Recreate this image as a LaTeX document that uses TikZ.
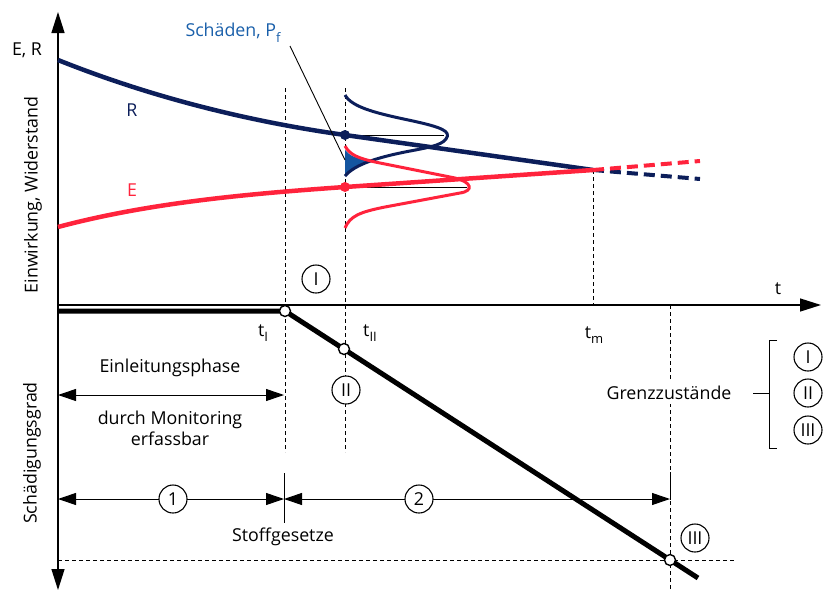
\documentclass[tikz,border=0pt]{standalone}
\usepackage{fontspec}
\setmainfont{Open Sans}
\usetikzlibrary{arrows.meta}
\definecolor{navyR}{RGB}{12,30,90}
\definecolor{redE}{RGB}{255,35,60}
\definecolor{blueP}{RGB}{25,95,170}
\definecolor{fillP}{RGB}{20,85,160}
\newcommand{\sub}[1]{\raisebox{-0.32em}{\fontsize{13}{13}\selectfont #1}}
\tikzset{
  axtip/.tip={Triangle[length=21pt,width=13pt]},
  dimtip/.tip={Triangle[length=18pt,width=12pt]}
}
\begin{document}
\begin{tikzpicture}[x=1pt,y=-1pt,
  lbl/.style={font=\fontsize{17.8}{21}\selectfont, inner sep=0pt},
  circ/.style={circle, draw, line width=1.1pt, fill=white, minimum size=28pt, inner sep=0pt, font=\fontsize{17.8}{21}\selectfont},
  thindash/.style={dash pattern=on 4pt off 3pt, line width=0.9pt},
  axisline/.style={line width=1.4pt},
  dimline/.style={line width=1pt},
  opendot/.style={circle, draw, line width=1.4pt, fill=white, minimum size=11pt, inner sep=0pt},
  fulldot/.style={circle, minimum size=10pt, inner sep=0pt}
]
\useasboundingbox (0,0) rectangle (823,595);

% key coordinates
\coordinate (ytop) at (58,12);
\coordinate (ybot) at (58,590);
\coordinate (xl) at (58,305);
\coordinate (xr) at (821,305);
\coordinate (Rs) at (58,60);
\coordinate (Es) at (58,227);
\coordinate (Rm) at (345,135);
\coordinate (Em) at (345,187);
\coordinate (M) at (593,170);
\coordinate (Rend) at (700,179);
\coordinate (Eend) at (700,161);

% thin dashed verticals
\draw[thindash] (285,88) coordinate (tIa) -- (285,452) coordinate (tIb);
\draw[thindash] (345,88) coordinate (tIIa) -- (345,452) coordinate (tIIb);
\draw[thindash] (M) -- (593,305) coordinate (tmb);
\draw[thindash] (670,305) coordinate (tGa) -- (670,590) coordinate (tGb);
\draw[thindash] (58,560) coordinate (hl) -- (735,560) coordinate (hr);

% axes
\draw[axisline, axtip-axtip] (ytop) -- (ybot);
\draw[axisline, -axtip] (xl) -- (xr);

% filled overlap
\fill[fillP] (345,150) .. controls (350,156) and (356,158) .. (369,161)
  .. controls (358,165) and (350,169) .. (345,177) -- cycle;

% distributions
\draw[navyR, line width=3pt] (345,95) .. controls (352,108) and (380,114) .. (413,121)
  .. controls (440,127) and (452,131) .. (446,139)
  .. controls (441,146) and (425,148) .. (405,152)
  .. controls (380,157) and (355,164) .. (345,176);
\draw[redE, line width=3pt] (345,146) .. controls (350,155) and (358,158) .. (375,162)
  -- (455,178) .. controls (472,182) and (474,191) .. (460,193)
  -- (385,207) .. controls (360,212) and (350,216) .. (345,228);

% horizontal thin lines to peaks
\draw[line width=1pt] (Rm) -- (444,135) coordinate (Rpk);
\draw[line width=1pt] (Em) -- (467,187) coordinate (Epk);

% R and E curves
\draw[navyR, line width=4.5pt] (Rs) .. controls (148,96) and (245,121) .. (Rm) -- (M);
\draw[redE, line width=4.5pt] (Es) .. controls (148,203) and (245,194) .. (Em) -- (M);
\draw[navyR, line width=4pt, dash pattern=on 11pt off 6pt] (M) -- (Rend);
\draw[redE, line width=4pt, dash pattern=on 11pt off 6pt] (M) -- (Eend);
\node[fulldot, fill=navyR] (dR) at (Rm) {};
\node[fulldot, fill=redE] (dE) at (Em) {};

% Pf label
\node[lbl, text=blueP] (Pf) at (233,33) {Schäden, P\sub{f}};
\coordinate (PfA) at (290,46);
\coordinate (PfB) at (345,160);
\draw[line width=0.9pt] (PfA) -- (PfB);

% text labels top
\node[lbl] (ER) at (27,50) {E, R};
\node[lbl, rotate=90] (EW) at (33,195) {Einwirkung, Widerstand};
\node[lbl, text=navyR] (Rl) at (132,110) {R};
\node[lbl, text=redE] (El) at (132,190) {E};
\node[lbl] (tl) at (778,289) {t};

% damage line
\coordinate (D0) at (58,311);
\coordinate (DI) at (285,311);
\coordinate (DII) at (344,349);
\coordinate (DIII) at (670,560);
\coordinate (Dend) at (698,578);
\draw[line width=5pt] (D0) -- (DI) -- (Dend);
\node[opendot] (oI) at (DI) {};
\node[opendot] (oII) at (DII) {};
\node[opendot] (oIII) at (DIII) {};

\node[lbl] (tI) at (263,333) {t\sub{I}};
\node[lbl] (tII) at (370,333) {t\sub{II}};
\node[lbl] (tm) at (594,335) {t\sub{m}};

% circled numerals
\node[circ] (cI) at (316,279) {I};
\node[circ] (cII) at (346,390) {II};
\node[circ] (cIII) at (695,538) {III};

% left rotated label
\node[lbl, rotate=90] (SG) at (32,453) {Schädigungsgrad};

% Einleitungsphase
\coordinate (Ea) at (58,395);
\coordinate (Eb) at (284,395);
\draw[dimline, dimtip-dimtip] (Ea) -- (Eb);
\node[lbl] (Einl) at (170,368) {Einleitungsphase};
\node[lbl, align=center] (Mon) at (170,428) {durch Monitoring\\erfassbar};

% dimension arrows 1 and 2
\coordinate (S1) at (58,499);
\coordinate (S2) at (284,499);
\coordinate (S3) at (670,499);
\draw[line width=1pt] (284,473) coordinate (tka) -- (284,523) coordinate (tkb);
\draw[line width=1pt] (670,472) coordinate (tkc) -- (670,500) coordinate (tkd);
\draw[dimline, dimtip-dimtip] (S1) -- (S2);
\draw[dimline, dimtip-dimtip] (S2) -- (S3);
\node[circ] (n1) at (173,499) {1};
\node[circ] (n2) at (419,499) {2};
\node[lbl] (Stoff) at (283,537) {Stoffgesetze};

% Grenzzustände
\node[lbl, fill=white, inner ysep=4pt, inner xsep=0pt] (Grenz) at (669,393) {Grenzzustände};
\coordinate (bt) at (777,340);
\coordinate (bb) at (777,448);
\draw[line width=1pt] (bt) -| (769,448) -- (bb);
\draw[line width=1pt] (753,393) coordinate (bm) -- (769,393);
\node[circ] (LI) at (808,357) {I};
\node[circ] (LII) at (808,393) {II};
\node[circ] (LIII) at (808,430) {III};
\end{tikzpicture}
\end{document}
